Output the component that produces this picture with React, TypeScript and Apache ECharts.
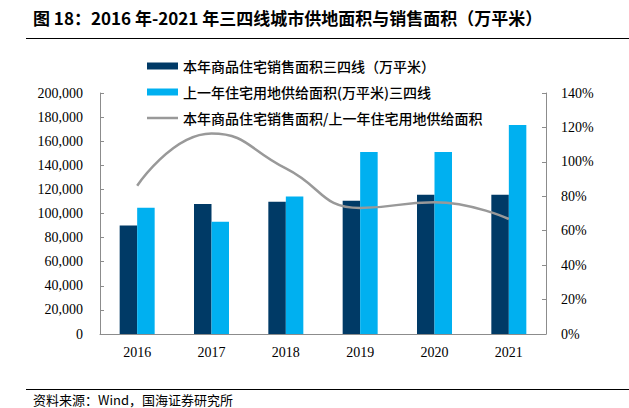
import React, { useEffect, useRef } from 'react';
import * as echarts from 'echarts';

const years = ['2016', '2017', '2018', '2019', '2020', '2021'];
const salesArea = [90100, 107900, 109800, 110600, 115600, 115600];
const landSupplyPrevYear = [104800, 93200, 114200, 151000, 151000, 173400];
const ratioPct = [86.1, 116.5, 96.2, 73.2, 76.6, 66.8];

const seriesNames = [
  '本年商品住宅销售面积三四线（万平米）',
  '上一年住宅用地供给面积(万平米)三四线',
  '本年商品住宅销售面积/上一年住宅用地供给面积',
];
const titleText = '图 18：2016 年-2021 年三四线城市供地面积与销售面积（万平米）';
const sourceText = '资料来源：Wind，国海证券研究所';

const serif = '"Liberation Serif", "Times New Roman", serif';
const cjk = '"Noto Sans CJK SC", sans-serif';

export default function App() {
  const ref = useRef<HTMLDivElement>(null);
  useEffect(() => {
    if (!ref.current) return;
    const chart = echarts.init(ref.current, null, { renderer: 'svg' });
    const axisLine = { show: true, lineStyle: { color: '#8c8c8c', width: 1 } };
    const legendText = { fontFamily: cjk, fontSize: 14, fontWeight: 500, color: '#000' };
    chart.setOption({
      animation: false,
      backgroundColor: '#ffffff',
      grid: { left: 100, right: 83, top: 93, bottom: 74 },
      legend: [
        {
          orient: 'vertical',
          left: 147,
          top: 59,
          padding: 0,
          itemWidth: 31,
          itemHeight: 7,
          itemGap: 12,
          textStyle: legendText,
          data: [
            { name: seriesNames[0], icon: 'rect' },
            { name: seriesNames[1], icon: 'rect' },
          ],
        },
        {
          orient: 'vertical',
          left: 147,
          top: 111,
          padding: 0,
          itemWidth: 31,
          itemHeight: 2.5,
          textStyle: legendText,
          data: [{ name: seriesNames[2], icon: 'rect' }],
        },
      ],
      xAxis: {
        type: 'category',
        data: years,
        axisLine,
        axisTick: { show: false },
        axisLabel: { fontFamily: serif, fontSize: 14, color: '#000', margin: 11 },
      },
      yAxis: [
        {
          type: 'value',
          min: 0,
          max: 200000,
          interval: 20000,
          axisLine,
          axisTick: { show: true, inside: true, length: 4, lineStyle: { color: '#8c8c8c' } },
          splitLine: { show: false },
          axisLabel: {
            fontFamily: serif,
            fontSize: 14,
            color: '#000',
            margin: 17,
            formatter: (v: number) => v.toLocaleString('en-US'),
          },
        },
        {
          type: 'value',
          min: 0,
          max: 140,
          interval: 20,
          position: 'right',
          axisLine,
          axisTick: { show: true, inside: true, length: 4, lineStyle: { color: '#8c8c8c' } },
          splitLine: { show: false },
          axisLabel: { fontFamily: serif, fontSize: 14, color: '#000', margin: 15, formatter: '{value}%' },
        },
      ],
      series: [
        {
          name: seriesNames[0],
          type: 'bar',
          data: salesArea,
          barWidth: 17.5,
          barGap: '0%',
          itemStyle: { color: '#003a66' },
        },
        {
          name: seriesNames[1],
          type: 'bar',
          data: landSupplyPrevYear,
          barWidth: 17.5,
          barGap: '0%',
          itemStyle: { color: '#00b0f0' },
        },
        {
          name: seriesNames[2],
          type: 'line',
          yAxisIndex: 1,
          data: ratioPct,
          smooth: 0.5,
          symbol: 'none',
          lineStyle: { color: '#999999', width: 2.5 },
          itemStyle: { color: '#999999' },
        },
      ],
      graphic: [
        {
          type: 'text',
          left: 33,
          top: 9,
          style: { text: titleText, font: `bold 17px ${cjk}`, fill: '#000' },
        },
        {
          type: 'line',
          shape: { x1: 26, y1: 38.5, x2: 629, y2: 38.5 },
          style: { stroke: '#000', lineWidth: 1 },
        },
        {
          type: 'line',
          shape: { x1: 26, y1: 389.5, x2: 629, y2: 389.5 },
          style: { stroke: '#000', lineWidth: 1 },
        },
        {
          type: 'text',
          left: 33,
          top: 393,
          style: { text: sourceText, font: `13px ${cjk}`, fill: '#000' },
        },
      ],
    });
    return () => chart.dispose();
  }, []);
  return (
    <div
      ref={ref}
      style={{ position: 'absolute', left: 0, top: 0, width: 629, height: 408, overflow: 'hidden' }}
    />
  );
}
